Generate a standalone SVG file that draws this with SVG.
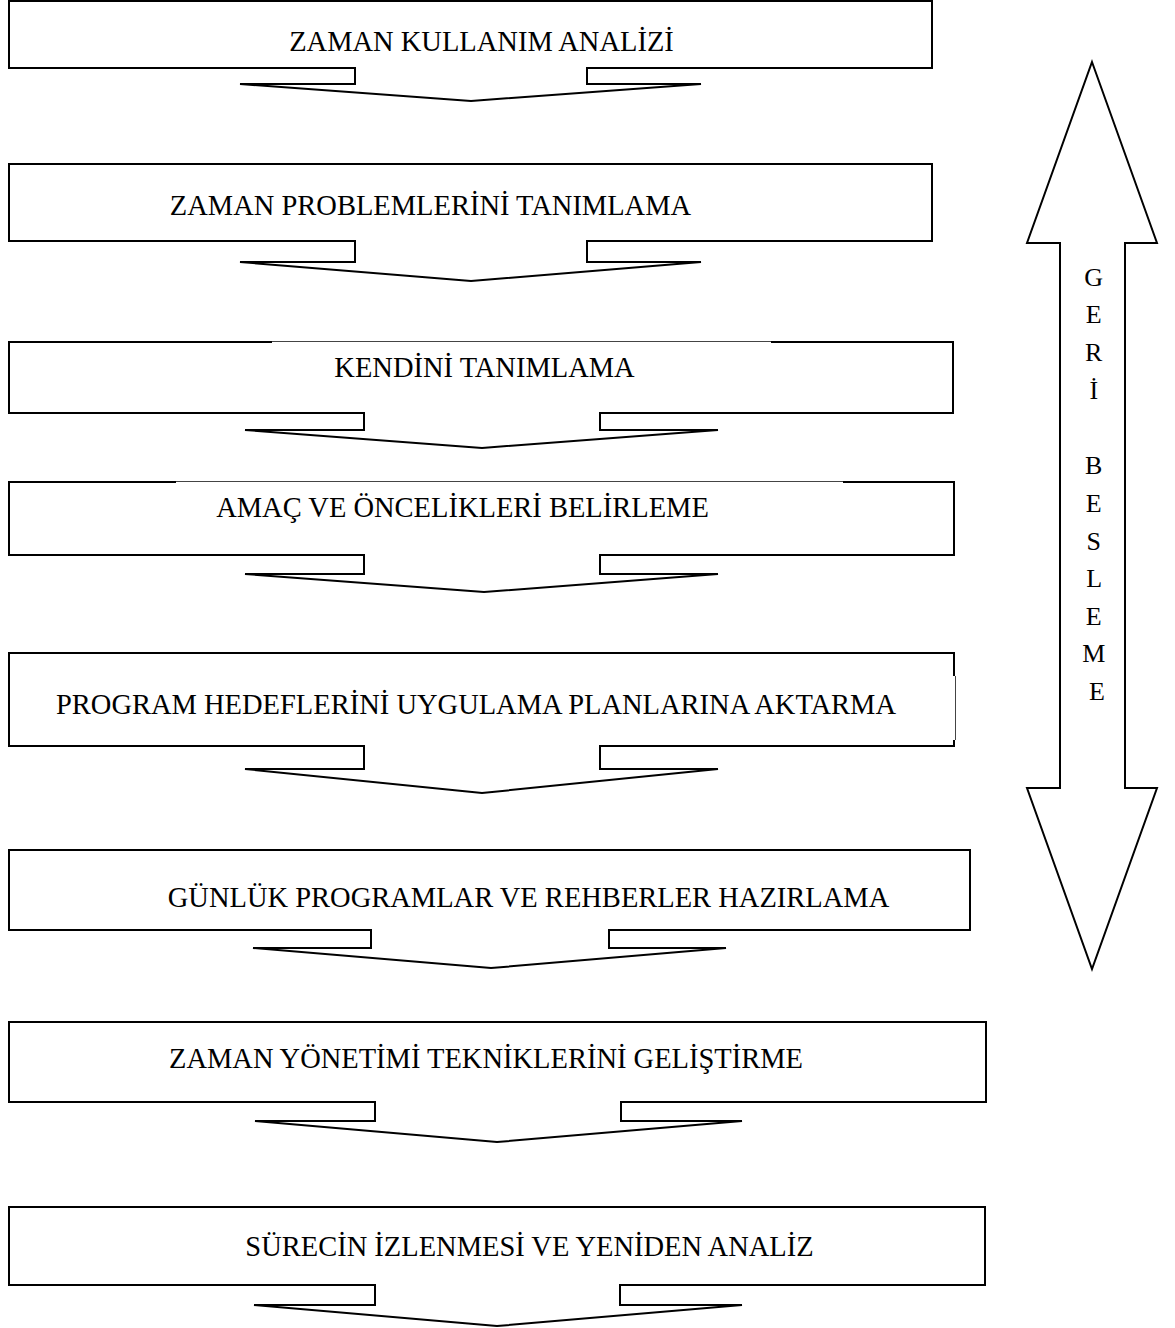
<svg xmlns="http://www.w3.org/2000/svg" width="1175" height="1328" viewBox="0 0 1175 1328">
<style>
.shape{fill:#fff;stroke:#000;stroke-width:2;stroke-linejoin:miter}
.lbl{font-family:"Liberation Serif","Times New Roman",serif;font-size:28.5px;fill:#000;text-anchor:middle}
.fb{font-family:"Liberation Serif","Times New Roman",serif;font-size:26px;fill:#000;text-anchor:middle}
.patch{stroke:#fff;stroke-width:3}
.thin{stroke:#444;stroke-width:1}
</style>
<rect width="1175" height="1328" fill="#fff"/>
<g id="node1">
<path class="shape" d="M9 1H932V68H587V84H701L471 101L240 84H355V68H9Z"/>
<text class="lbl" x="481.5" y="51">ZAMAN KULLANIM ANALİZİ</text>
</g>
<g id="node2">
<path class="shape" d="M9 164H932V241H587V262H701L471 281L240 262H355V241H9Z"/>
<text class="lbl" x="430.5" y="215">ZAMAN PROBLEMLERİNİ TANIMLAMA</text>
</g>
<g id="node3">
<path class="shape" d="M9 342H953V413H600V430H718L482 448L245 430H364V413H9Z"/>
<line class="patch" x1="272" y1="342" x2="771" y2="342"/>
<line class="thin" x1="272" y1="341.5" x2="771" y2="341.5"/>
<text class="lbl" x="484.5" y="377">KENDİNİ TANIMLAMA</text>
</g>
<g id="node4">
<path class="shape" d="M9 482H954V555H600V574H718L484 592L245 574H364V555H9Z"/>
<line class="patch" x1="176" y1="482" x2="843" y2="482"/>
<line class="thin" x1="176" y1="481.5" x2="843" y2="481.5"/>
<text class="lbl" x="462.5" y="517">AMAÇ VE ÖNCELİKLERİ BELİRLEME</text>
</g>
<g id="node5">
<path class="shape" d="M9 653H954V746H600V769H718L482 793L245 769H364V746H9Z"/>
<line class="patch" x1="954" y1="676" x2="954" y2="740"/>
<line class="thin" x1="955.5" y1="676" x2="955.5" y2="740"/>
<text class="lbl" x="476" y="714">PROGRAM HEDEFLERİNİ UYGULAMA PLANLARINA AKTARMA</text>
</g>
<g id="node6">
<path class="shape" d="M9 850H970V930H609V948H726L491 968L253 948H371V930H9Z"/>
<text class="lbl" x="528.5" y="907">GÜNLÜK PROGRAMLAR VE REHBERLER HAZIRLAMA</text>
</g>
<g id="node7">
<path class="shape" d="M9 1022H986V1102H621V1121H742L497 1142L255 1121H375V1102H9Z"/>
<text class="lbl" x="486" y="1068">ZAMAN YÖNETİMİ TEKNİKLERİNİ GELİŞTİRME</text>
</g>
<g id="node8">
<path class="shape" d="M9 1207H985V1285H620V1305H742L497 1326L254 1305H375V1285H9Z"/>
<text class="lbl" x="529.5" y="1256">SÜRECİN İZLENMESİ VE YENİDEN ANALİZ</text>
</g>
<g id="connectors">
<g id="feedback">
<path class="shape" d="M1092 62L1157 243H1125V788H1157L1092 969L1027 788H1060V243H1027Z"/>
<text class="fb" x="1097">
<tspan x="1097" y="286">G</tspan>
<tspan x="1097" y="323">E</tspan>
<tspan x="1097" y="361">R</tspan>
<tspan x="1097" y="399">İ</tspan>
<tspan x="1097" y="474">B</tspan>
<tspan x="1097" y="512">E</tspan>
<tspan x="1097" y="550">S</tspan>
<tspan x="1097" y="587">L</tspan>
<tspan x="1097" y="625">E</tspan>
<tspan x="1097" y="662">M</tspan>
<tspan x="1097" y="700">E</tspan>
</text>
</g>
</g>
</svg>
